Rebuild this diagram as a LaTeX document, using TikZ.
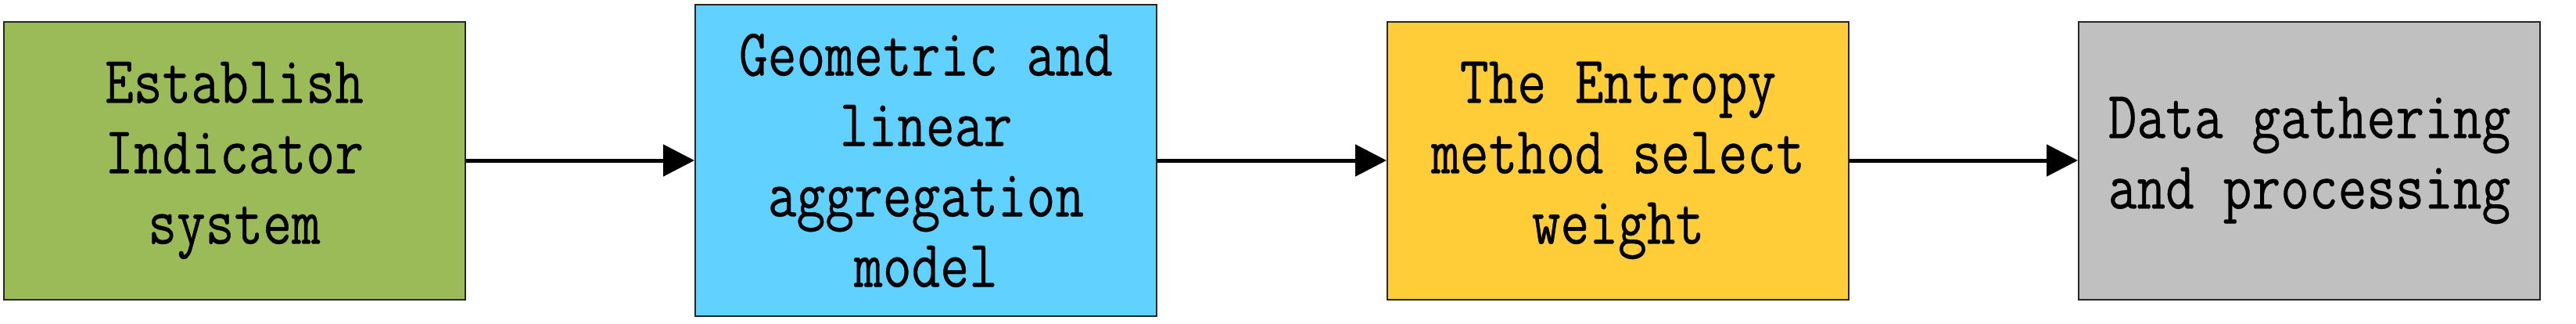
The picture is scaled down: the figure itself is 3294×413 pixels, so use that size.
\documentclass[tikz,border=0pt]{standalone}
\usepackage{fontspec}
\usetikzlibrary{arrows.meta}
\newfontfamily\boxfont[FakeStretch=0.83,FakeBold=0.4]{Latin Modern Mono}
\definecolor{cgreen}{HTML}{9BBB59}
\definecolor{cblue}{HTML}{61D2FF}
\definecolor{cyellow}{HTML}{FFCD37}
\definecolor{cgray}{HTML}{C0C0C0}
\tikzset{
  stepbox/.style={draw=black!85, line width=2pt, inner sep=0pt, align=center,
    minimum width=590pt, minimum height=355pt,
    font=\boxfont\fontsize{86}{90}\selectfont},
  flow/.style={line width=5pt, -{Triangle[length=40pt,width=40pt]}}
}
\begin{document}
\begin{tikzpicture}[x=1pt,y=1pt]
\useasboundingbox (0,0) rectangle (3294,-413);
\node[stepbox, fill=cgreen] (b1) at (299.5,-205) {Establish\\Indicator\\system};
\node[stepbox, fill=cblue, minimum height=398pt] (b2) at (1184,-205) {Geometric and\\linear\\aggregation\\model};
\node[stepbox, fill=cyellow] (b3) at (2069,-205) {The Entropy\\method select\\weight};
\node[stepbox, fill=cgray] (b4) at (2953,-205) {Data gathering\\and processing};
\draw[flow] (b1.east) -- (b2.west);
\draw[flow] (b2.east) -- (b3.west);
\draw[flow] (b3.east) -- (b4.west);
\end{tikzpicture}
\end{document}
